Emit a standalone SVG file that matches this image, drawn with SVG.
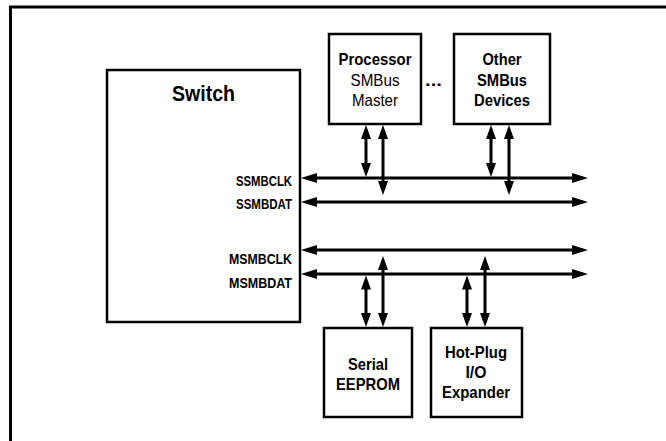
<svg xmlns="http://www.w3.org/2000/svg" width="666" height="441" viewBox="0 0 666 441">
<style>
.box{fill:#fff;stroke:#000;stroke-width:2.5}
.frame{fill:none;stroke:#000;stroke-width:3}
.bus{fill:none;stroke:#000;stroke-width:3}
.vl{fill:none;stroke:#000;stroke-width:3}
text{font-family:"Liberation Sans Narrow","Liberation Sans",Arial,sans-serif;fill:#000}
.b{font-weight:bold}
.c{text-anchor:middle}
.e{text-anchor:end}
</style>
<defs>
<marker id="hb" markerUnits="userSpaceOnUse" markerWidth="16" markerHeight="10" refX="9" refY="5" orient="auto-start-reverse"><path d="M0,0 L16,5 L0,10 z" fill="#000"/></marker>
<marker id="hv" markerUnits="userSpaceOnUse" markerWidth="14" markerHeight="10" refX="8" refY="5" orient="auto-start-reverse"><path d="M0,0 L14,5 L0,10 z" fill="#000"/></marker>
</defs>
<g id="frame"><path class="frame" d="M10.5,441 V7 H666"/></g>
<g id="switch">
<rect class="box" x="107" y="70" width="193" height="252"/>
<text class="b c" x="203.5" y="101" font-size="22" textLength="63" lengthAdjust="spacingAndGlyphs">Switch</text>
<text class="b e" x="292" y="186" font-size="15" textLength="56" lengthAdjust="spacingAndGlyphs">SSMBCLK</text>
<text class="b e" x="292" y="209" font-size="15" textLength="56" lengthAdjust="spacingAndGlyphs">SSMBDAT</text>
<text class="b e" x="292" y="264" font-size="15" textLength="63" lengthAdjust="spacingAndGlyphs">MSMBCLK</text>
<text class="b e" x="292" y="288" font-size="15" textLength="63" lengthAdjust="spacingAndGlyphs">MSMBDAT</text>
</g>
<g id="processor">
<rect class="box" x="329" y="34" width="92" height="90"/>
<text class="b c" x="375" y="65" font-size="17" textLength="73" lengthAdjust="spacingAndGlyphs">Processor</text>
<text class="c" x="375" y="86" font-size="17" textLength="49" lengthAdjust="spacingAndGlyphs">SMBus</text>
<text class="c" x="375" y="106" font-size="17" textLength="46" lengthAdjust="spacingAndGlyphs">Master</text>
</g>
<g id="ellipsis"><text class="b" x="425" y="86" font-size="17" textLength="17" lengthAdjust="spacingAndGlyphs">...</text></g>
<g id="other">
<rect class="box" x="454" y="34" width="96" height="90"/>
<text class="b c" x="502" y="65" font-size="17" textLength="39" lengthAdjust="spacingAndGlyphs">Other</text>
<text class="b c" x="502" y="86" font-size="17" textLength="50" lengthAdjust="spacingAndGlyphs">SMBus</text>
<text class="b c" x="502" y="106" font-size="17" textLength="56" lengthAdjust="spacingAndGlyphs">Devices</text>
</g>
<g id="eeprom">
<rect class="box" x="324" y="328" width="88" height="89"/>
<text class="b c" x="368" y="370" font-size="17" textLength="40" lengthAdjust="spacingAndGlyphs">Serial</text>
<text class="b c" x="368" y="390" font-size="17" textLength="64" lengthAdjust="spacingAndGlyphs">EEPROM</text>
</g>
<g id="hotplug">
<rect class="box" x="431" y="328" width="91" height="89"/>
<text class="b c" x="476" y="358" font-size="17" textLength="62" lengthAdjust="spacingAndGlyphs">Hot-Plug</text>
<text class="b c" x="476" y="378" font-size="17" textLength="21" lengthAdjust="spacingAndGlyphs">I/O</text>
<text class="b c" x="476" y="398" font-size="17" textLength="68" lengthAdjust="spacingAndGlyphs">Expander</text>
</g>
<g id="connectors">
<line class="bus" x1="308" y1="178" x2="581" y2="178" marker-start="url(#hb)" marker-end="url(#hb)"/>
<line class="bus" x1="308" y1="202" x2="581" y2="202" marker-start="url(#hb)" marker-end="url(#hb)"/>
<line class="bus" x1="308" y1="250" x2="581" y2="250" marker-start="url(#hb)" marker-end="url(#hb)"/>
<line class="bus" x1="308" y1="274" x2="581" y2="274" marker-start="url(#hb)" marker-end="url(#hb)"/>
<line class="vl" x1="366" y1="131" x2="366" y2="171" marker-start="url(#hv)" marker-end="url(#hv)"/>
<line class="vl" x1="383" y1="131" x2="383" y2="189" marker-start="url(#hv)" marker-end="url(#hv)"/>
<line class="vl" x1="491" y1="131" x2="491" y2="171" marker-start="url(#hv)" marker-end="url(#hv)"/>
<line class="vl" x1="509" y1="131" x2="509" y2="189" marker-start="url(#hv)" marker-end="url(#hv)"/>
<line class="vl" x1="366" y1="281.5" x2="366" y2="321" marker-start="url(#hv)" marker-end="url(#hv)"/>
<line class="vl" x1="383" y1="262" x2="383" y2="321" marker-start="url(#hv)" marker-end="url(#hv)"/>
<line class="vl" x1="467" y1="281.5" x2="467" y2="321" marker-start="url(#hv)" marker-end="url(#hv)"/>
<line class="vl" x1="485" y1="262" x2="485" y2="321" marker-start="url(#hv)" marker-end="url(#hv)"/>
</g>
</svg>
